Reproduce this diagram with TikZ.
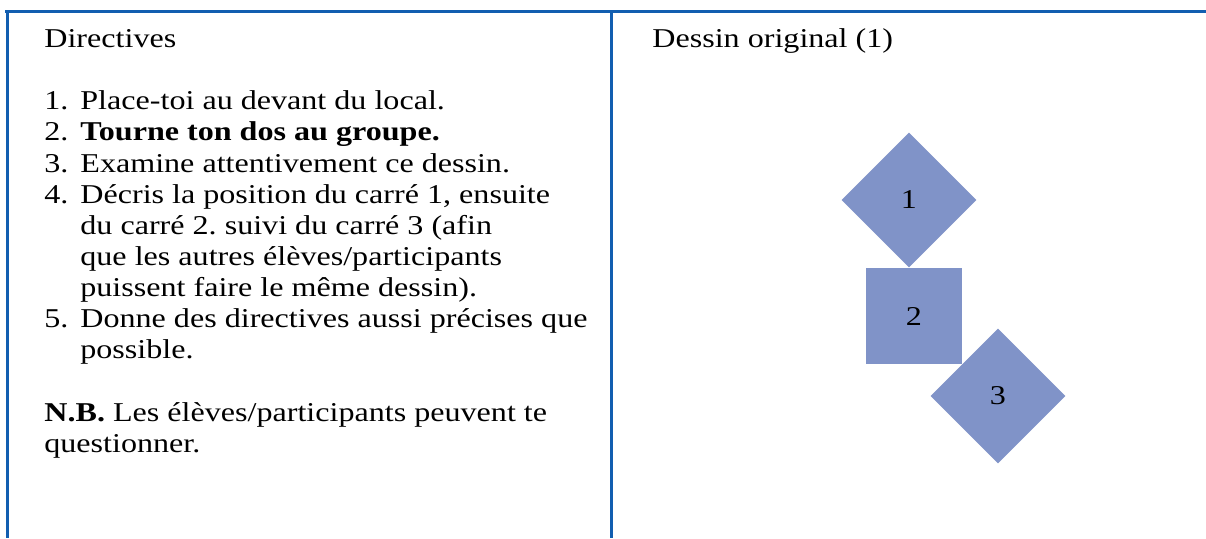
\documentclass[tikz,border=0pt]{standalone}
\usepackage{fontspec}
\setmainfont{Liberation Serif}[FakeStretch=1.18]
\usetikzlibrary{shapes.geometric}
\definecolor{bordbleu}{RGB}{18,94,176}
\definecolor{carrebleu}{RGB}{128,147,200}
\begin{document}
\frenchspacing
\begin{tikzpicture}[x=0.5pt,y=-0.5pt,
    txt/.style={anchor=base west,inner sep=0pt,font=\fontsize{13.6}{15}\selectfont},
    bord/.style={draw=bordbleu,line width=1.5pt},
    losange/.style={diamond,fill=carrebleu,inner sep=0pt,minimum width=67.5pt,minimum height=67.5pt,font=\fontsize{13.6}{15}\selectfont},
    carre/.style={rectangle,fill=carrebleu,inner sep=0pt,minimum size=48pt,font=\fontsize{13.6}{15}\selectfont}]
                \useasboundingbox (0,0) rectangle (1206,538);
                % bordures du tableau
                \draw [bord] (5,11) -- (1206,11) ;
                \draw [bord] (7,11) -- (7,538) ;
                \draw [bord] (611,11) -- (611,538) ;
                % colonne de gauche
                \node [txt] (titreg) at (44,47) {Directives} ;
                \node [txt] (n1) at (44,109) {1.} ;
                \node [txt] (l1) at (80,109) {Place-toi au devant du local.} ;
                \node [txt] (n2) at (44,140) {2.} ;
                \node [txt] (l2) at (80,140) {\bfseries Tourne ton dos au groupe.} ;
                \node [txt] (n3) at (44,172) {3.} ;
                \node [txt] (l3) at (80,172) {Examine attentivement ce dessin.} ;
                \node [txt] (n4) at (44,203) {4.} ;
                \node [txt] (l4a) at (80,203) {Décris la position du carré 1, ensuite} ;
                \node [txt] (l4b) at (80,234) {du carré 2. suivi du carré 3 (afin} ;
                \node [txt] (l4c) at (80,265) {que les autres élèves/participants} ;
                \node [txt] (l4d) at (80,296) {puissent faire le même dessin).} ;
                \node [txt] (n5) at (44,327) {5.} ;
                \node [txt] (l5a) at (80,327) {Donne des directives aussi précises que} ;
                \node [txt] (l5b) at (80,358) {possible.} ;
                \node [txt] (nb1) at (44,421) {\textbf{N.B.} Les élèves/participants peuvent te} ;
                \node [txt] (nb2) at (44,452) {questionner.} ;
                % colonne de droite
                \node [txt] (titred) at (652,47) {Dessin original (1)} ;
                \node [losange] (c1) at (909,200) {1} ;
                \node [carre] (c2) at (914,316) {2} ;
                \node [losange] (c3) at (998,396) {3} ;
\end{tikzpicture}
\end{document}
